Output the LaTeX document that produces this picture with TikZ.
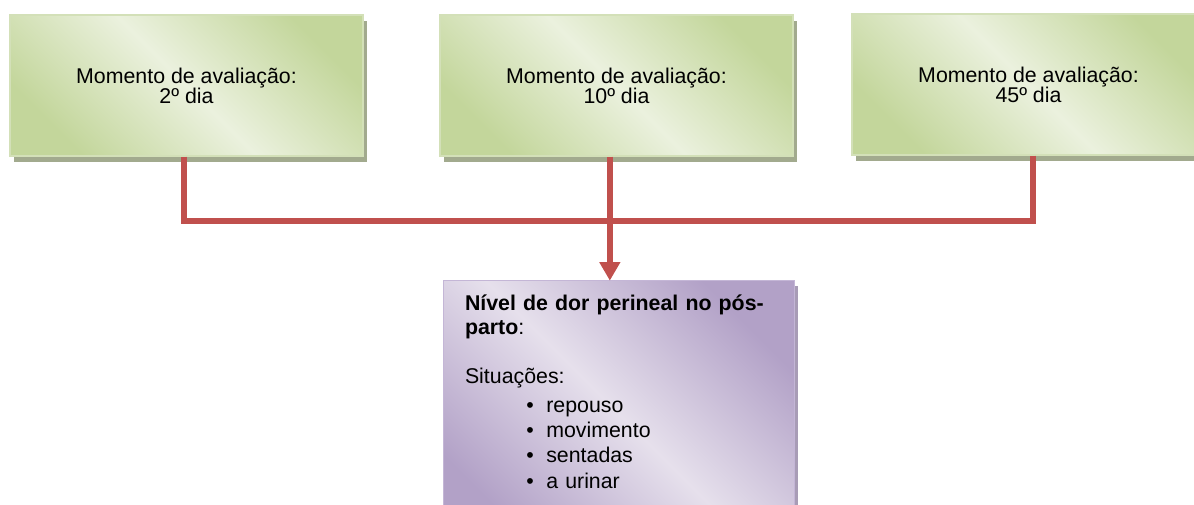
\documentclass[tikz,border=0pt]{standalone}
\usepackage{fontspec}
\setmainfont{Liberation Sans}
\usetikzlibrary{arrows.meta,shadows}
\definecolor{greendark}{HTML}{C3D69B}
\definecolor{greenlight}{HTML}{EBF1DE}
\definecolor{greenedge}{HTML}{D3E0B8}
\definecolor{greenshadow}{HTML}{A2AA8E}
\definecolor{lilacdark}{HTML}{B2A1C7}
\definecolor{lilaclight}{HTML}{E6E0EC}
\definecolor{lilacedge}{HTML}{C4B6D6}
\definecolor{lilacshadow}{HTML}{A89CB6}
\definecolor{linkred}{HTML}{C0504D}
\tikzset{every picture/.style={line width=0.75pt}}
\tikzset{
  momentbox/.style={draw=greenedge, line width=1pt, inner sep=0pt,
    minimum width=264.75pt, minimum height=105.75pt, align=center,
    left color=greendark, right color=greendark, middle color=greenlight, shading angle=-45,
    drop shadow={shadow xshift=3pt, shadow yshift=-4.5pt, fill=greenshadow, opacity=1},
    font=\fontsize{16}{15}\selectfont},
  levelbox/.style={draw=lilacedge, line width=1pt, inner xsep=16pt, inner ysep=6pt,
    text width=231pt, align=left, anchor=north,
    left color=lilacdark, right color=lilacdark, middle color=lilaclight, shading angle=-45,
    drop shadow={shadow xshift=3pt, shadow yshift=-4pt, fill=lilacshadow, opacity=1},
    font=\fontsize{16}{18.5}\selectfont},
  link/.style={draw=linkred, line width=4.5pt},
}
\newcommand{\itembullet}[1]{\hspace*{46pt}\makebox[15pt][l]{\textbullet}#1}

\begin{document}
\begin{tikzpicture}[x=0.75pt,y=0.75pt,yscale=-1,xscale=1]
\useasboundingbox (0,0) rectangle (1194,504);

% Moments
\node [momentbox] (dia2) at (186.5,85.5) {Momento de avaliação:\\2º dia};
\node [momentbox] (dia10) at (616.5,85.5) {Momento de avaliação:\\10º dia};
\node [momentbox] (dia45) at (1028.5,84.5) {Momento de avaliação:\\45º dia};

% Pain level
\node [levelbox] (nivel) at (619,280) {\rule{0pt}{16pt}\textbf{Nível de dor perineal no pós-}\\\textbf{parto}:\\[18pt]
Situações:\\[3pt]
\itembullet{repouso}\\[0.5pt]
\itembullet{movimento}\\[0.5pt]
\itembullet{sentadas}\\[0.5pt]
\itembullet{a urinar}\\[20pt]\mbox{}};

% Links
\coordinate (join) at ([xshift=-5pt]dia10.south |- 0,221);
\draw [link] ([xshift=-2pt]dia2.south) |- (join);
\draw [link] ([xshift=3pt]dia45.south) |- (join);
\draw [link] ([xshift=-5pt]dia10.south) -- (join);
\draw [link, -{Triangle[width=15pt,length=14pt]}, shorten >=-0.5pt] (join) -- (join |- nivel.north);

\end{tikzpicture}
\end{document}
